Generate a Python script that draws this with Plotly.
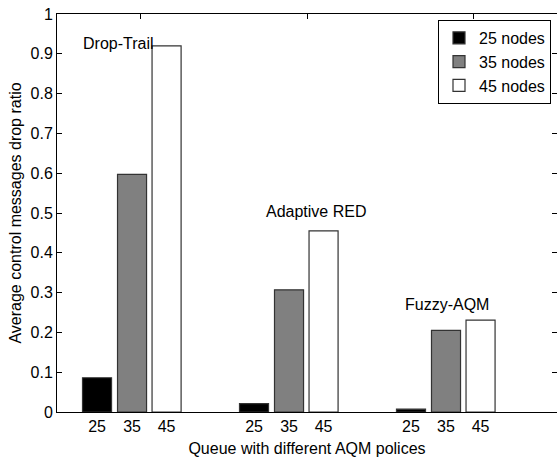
import plotly.graph_objects as go

groups = ["Drop-Trail", "Adaptive RED", "Fuzzy-AQM"]
series_names = ["25 nodes", "35 nodes", "45 nodes"]
node_labels = ["25", "35", "45"]
values_25 = [0.086, 0.021, 0.007]
values_35 = [0.597, 0.307, 0.205]
values_45 = [0.920, 0.455, 0.231]
y_ticks = [0, 0.1, 0.2, 0.3, 0.4, 0.5, 0.6, 0.7, 0.8, 0.9, 1]
y_tick_text = ["0", "0.1", "0.2", "0.3", "0.4", "0.5", "0.6", "0.7", "0.8", "0.9", "1"]

colors = ["#000000", "#808080", "#ffffff"]
offsets = [-0.223, 0.0, 0.22]
bar_width = 0.185
group_pos = [1, 2, 3]
label_pos = [(0.911, 0.927), (2.175, 0.503), (3.009, 0.269)]
top_ticks = [1.051, 2.115, 3.178]

FONT = "Liberation Sans, Arial, sans-serif"
fig = go.Figure()
for vals, name, col, off in zip([values_25, values_35, values_45], series_names, colors, offsets):
    fig.add_trace(go.Bar(
        x=[g + off for g in group_pos], y=vals, width=bar_width, name=name,
        marker=dict(color=col, line=dict(color="#333333", width=1.2)),
    ))

tickvals = []
ticktext = []
for g in group_pos:
    for off, lab in zip(offsets, node_labels):
        tickvals.append(g + off)
        ticktext.append(lab)

fig.add_trace(go.Scatter(x=[top_ticks[0]], y=[0], xaxis="x2", mode="markers",
                         marker=dict(opacity=0), showlegend=False, hoverinfo="skip"))

for (gx, gy), name in zip(label_pos, groups):
    fig.add_annotation(x=gx, y=gy, text=name, showarrow=False,
                       font=dict(size=16, color="#000", family=FONT))

xr = [0.522, 3.707]
fig.update_layout(
    width=557, height=457,
    margin=dict(l=57, r=0, t=14, b=45),
    plot_bgcolor="white", paper_bgcolor="white",
    font=dict(family=FONT, size=16, color="#000"),
    barmode="overlay",
    xaxis=dict(range=xr, tickmode="array", tickvals=tickvals, ticktext=ticktext,
               ticks="", showline=True, linecolor="#000", linewidth=1,
               showgrid=False, zeroline=False,
               title=dict(text="Queue with different AQM polices", standoff=8,
                          font=dict(size=16))),
    xaxis2=dict(range=xr, overlaying="x", side="top", tickmode="array",
                tickvals=top_ticks, ticks="inside", ticklen=5, tickcolor="#000",
                showticklabels=False, showline=True, linecolor="#000",
                showgrid=False, zeroline=False),
    yaxis=dict(range=[0, 1], tickmode="array", tickvals=y_ticks, ticktext=y_tick_text,
               ticks="inside", ticklen=5, tickcolor="#000", mirror="ticks",
               showline=True, linecolor="#000", linewidth=1,
               showgrid=False, zeroline=False,
               title=dict(text="Average control messages drop ratio", standoff=4,
                          font=dict(size=16))),
    legend=dict(x=0.988, xanchor="right", y=0.985, yanchor="top",
                bordercolor="#000", borderwidth=1, bgcolor="white",
                font=dict(size=16), tracegroupgap=0, itemwidth=30),
    showlegend=True,
)
fig.write_html("out.html")
